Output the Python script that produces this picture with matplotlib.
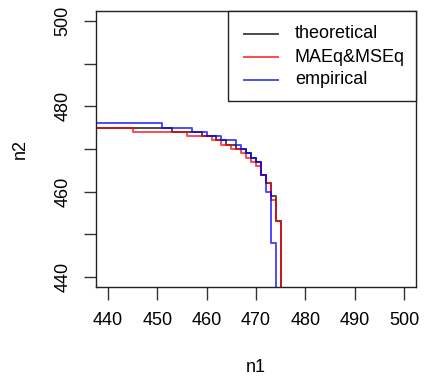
import matplotlib
matplotlib.use("Agg")
import matplotlib.pyplot as plt
from matplotlib.lines import Line2D
from matplotlib.patches import Rectangle

plt.rcParams['font.family'] = ['Liberation Sans', 'DejaVu Sans']

# staircase frontiers (n1 breakpoints, n2 level held until the next breakpoint)
theo_n1 = [430, 453, 459, 462, 464, 466, 468, 469, 470, 471, 472, 473, 474, 475]
theo_n2 = [475, 474, 473, 472, 471, 470, 469, 468, 467, 464, 462, 459, 453, 430]

mae_n1 = [430, 445, 456, 461, 463, 465, 467, 468, 469, 470, 471, 472, 473, 474, 475]
mae_n2 = [475, 474, 473, 472, 471, 470, 469, 468, 467, 466, 464, 462, 458, 453, 430]

emp_n1 = [430, 451, 457, 460, 463, 466, 467, 468, 469, 470, 471, 472, 473, 474]
emp_n2 = [476, 475, 474, 473, 472, 471, 470, 469, 468, 467, 464, 460, 448, 430]

labels = ["theoretical", "MAEq&MSEq", "empirical"]
colors = ["#000000", "#ff0000", "#0000ff"]

xticks = [440, 450, 460, 470, 480, 490, 500]
yticks = [440, 450, 460, 470, 480, 490, 500]
yticklabels = ["440", "", "460", "", "480", "", "500"]

W, H = 424, 381
fig = plt.figure(figsize=(W/100, H/100), dpi=100)
ax = fig.add_axes([96/W, 1-287/H, 320/W, 276/H])

for xs, ys, lab, c in zip([theo_n1, mae_n1, emp_n1], [theo_n2, mae_n2, emp_n2], labels, colors):
    ax.step(xs, ys, where='post', color=c, alpha=0.7, lw=1.4, label=lab)

ax.set_xlim(437.6, 502.4)
ax.set_ylim(437.6, 502.4)
ax.set_xticks(xticks)
ax.set_yticks(yticks)
ax.set_yticklabels(yticklabels, rotation=90, va='center')
ax.tick_params(axis='both', labelsize=13, length=9, width=1, color='#333333')
ax.tick_params(axis='x', pad=8.7)
ax.tick_params(axis='y', pad=8.8)
ax.set_xlabel("n1", fontsize=13, labelpad=22)
ax.set_ylabel("n2", fontsize=13, labelpad=18)
for s in ax.spines.values():
    s.set_color('#222222')
    s.set_linewidth(1.0)

# legend (top-right, R style)
def fx(px):
    return px / W
def fy(py):
    return 1 - py / H

fig.patches.append(Rectangle((fx(228), fy(101)), fx(416) - fx(228), fy(11) - fy(101),
                             transform=fig.transFigure, facecolor='white',
                             edgecolor='#222222', lw=1.0, zorder=5))
for i, (lab, c) in enumerate(zip(labels, colors)):
    yy = 34 + i * 23
    fig.add_artist(Line2D([fx(244), fx(278)], [fy(yy), fy(yy)], color=c, alpha=0.7,
                          lw=1.4, transform=fig.transFigure, zorder=6))
    fig.text(fx(295), fy(yy), lab, fontsize=13, va='center', ha='left', zorder=6)

fig.savefig("out.png", dpi=100)
